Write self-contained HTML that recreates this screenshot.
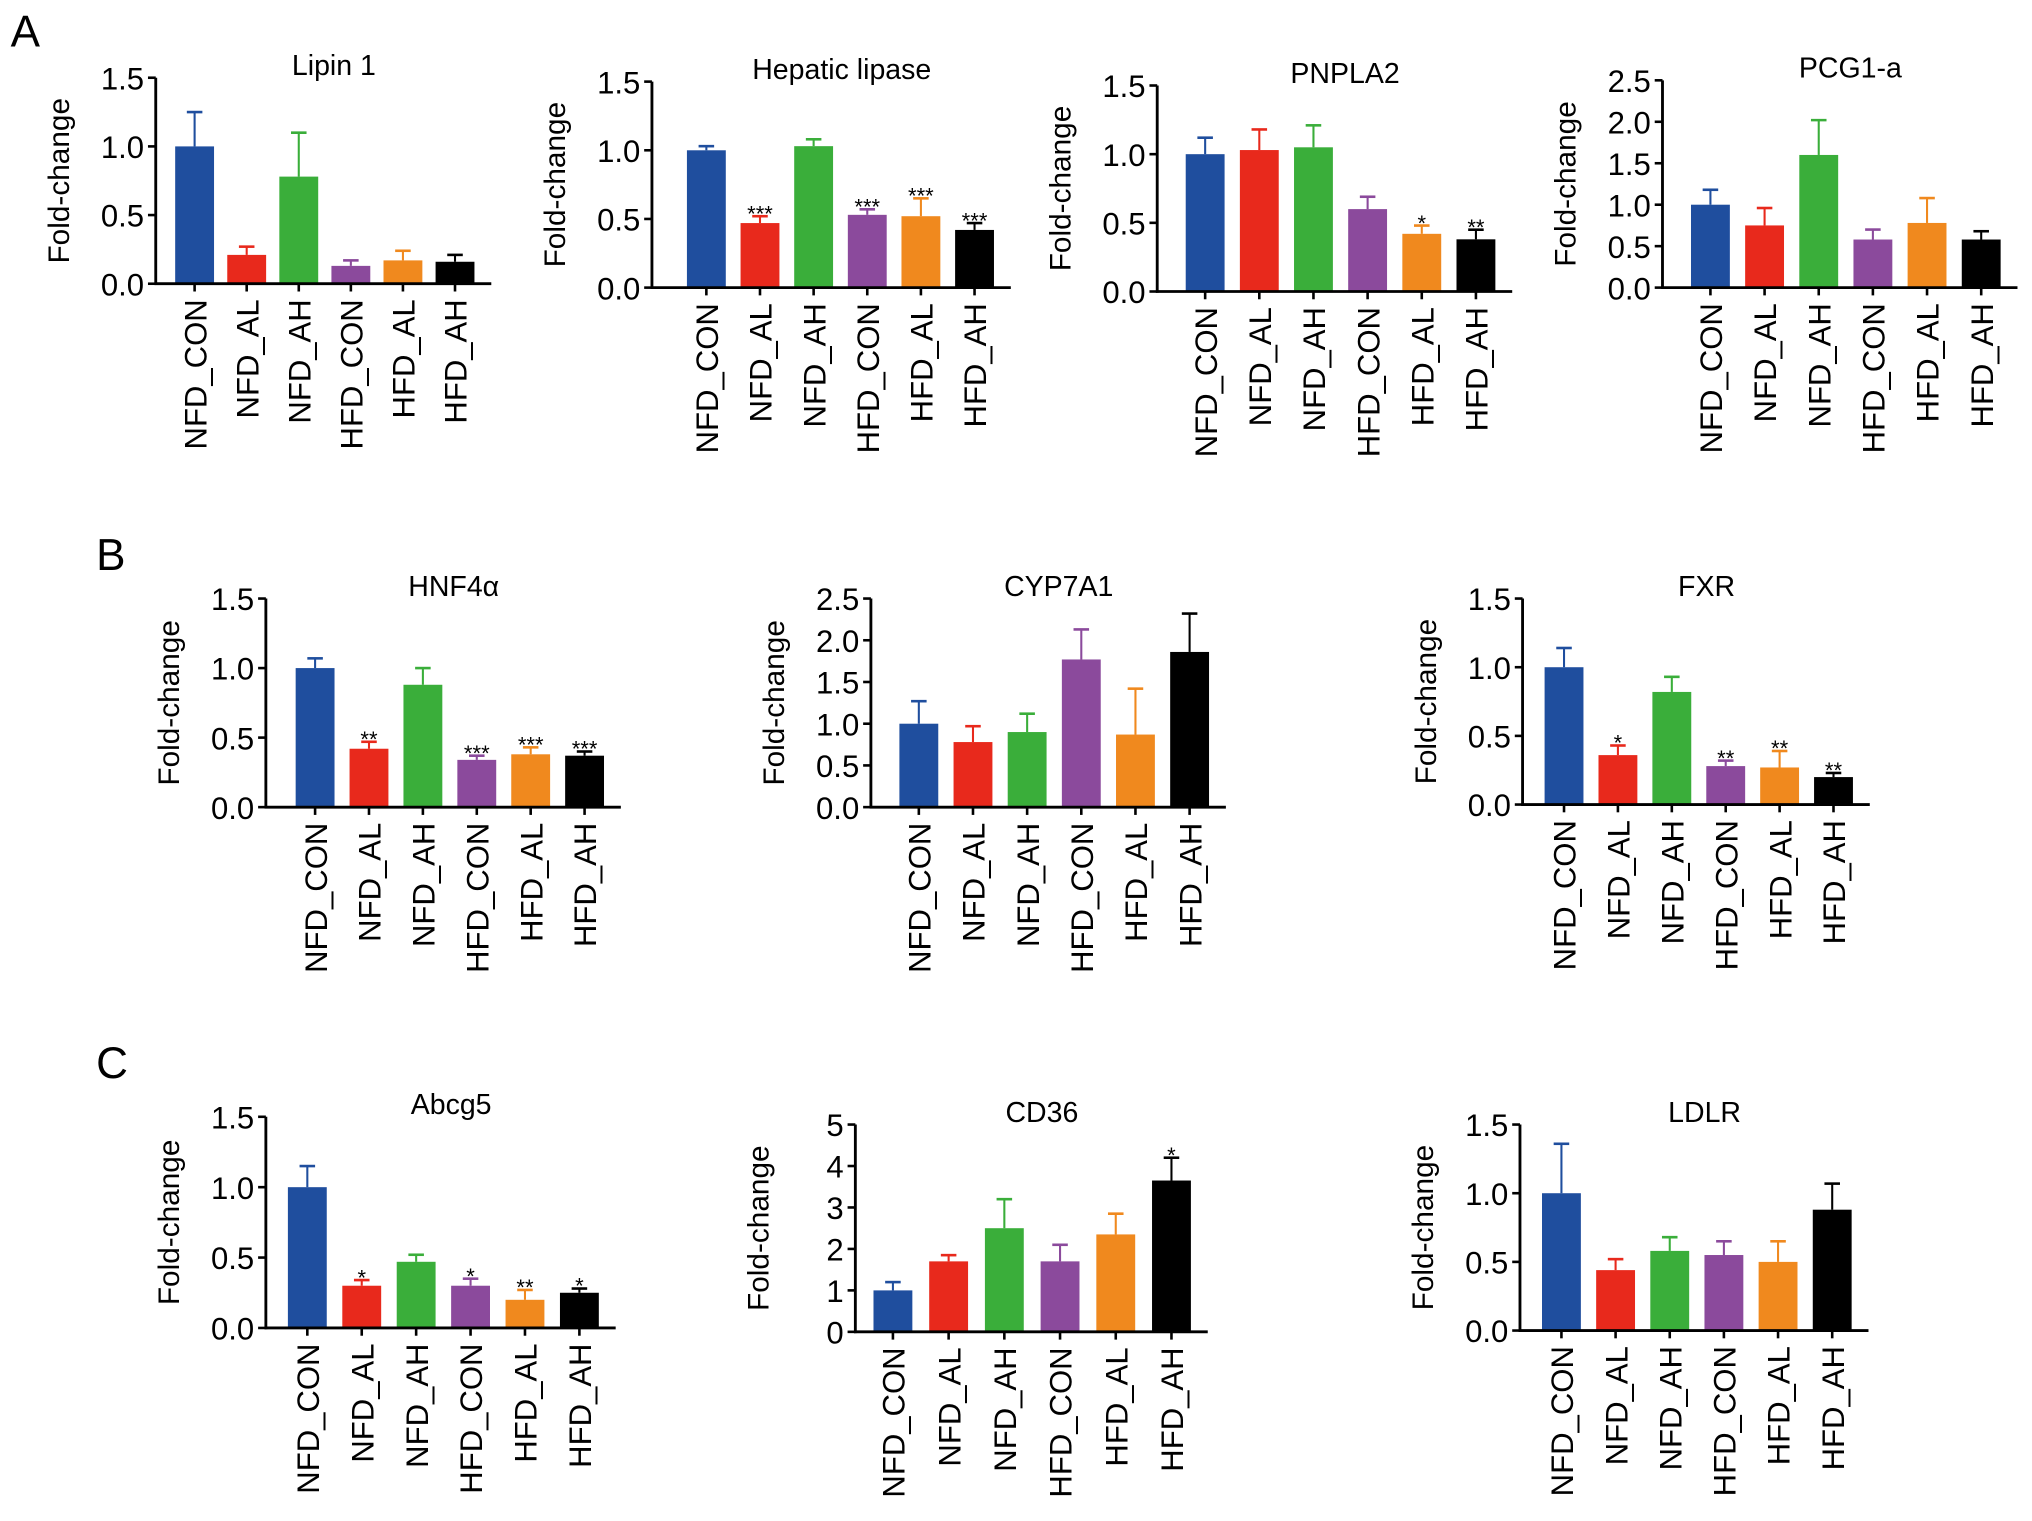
<!DOCTYPE html>
<html><head><meta charset="utf-8">
<style>
html,body{margin:0;padding:0;background:#fff;}
svg{display:block;font-family:"Liberation Sans",Arial,sans-serif;}
</style></head>
<body>
<svg id="fig" width="2032" height="1521" viewBox="0 0 1568 1174" xmlns="http://www.w3.org/2000/svg">
<text x="8" y="36" font-size="34">A</text>
<text x="74" y="440" font-size="34">B</text>
<text x="74" y="832" font-size="34">C</text>
</svg>
<script>
const categories = ["NFD_CON","NFD_AL","NFD_AH","HFD_CON","HFD_AL","HFD_AH"];
const colors = ["#1f4e9e","#e8291c","#3aae3a","#8b4a9c","#f0891e","#000000"];

const lipinMeans = [1.0,0.21,0.78,0.13,0.17,0.16];
const lipinErr = [1.25,0.27,1.10,0.17,0.24,0.21];
const lipinStars = ["","","","","",""];
const hepaticMeans = [1.0,0.47,1.03,0.53,0.52,0.42];
const hepaticErr = [1.03,0.52,1.08,0.57,0.65,0.47];
const hepaticStars = ["","***","","***","***","***"];
const pnplaMeans = [1.0,1.03,1.05,0.60,0.42,0.38];
const pnplaErr = [1.12,1.18,1.21,0.69,0.48,0.45];
const pnplaStars = ["","","","","*","**"];
const pcgMeans = [1.0,0.75,1.6,0.58,0.78,0.58];
const pcgErr = [1.18,0.96,2.02,0.70,1.08,0.68];
const pcgStars = ["","","","","",""];
const hnfMeans = [1.0,0.42,0.88,0.34,0.38,0.37];
const hnfErr = [1.07,0.47,1.0,0.37,0.43,0.40];
const hnfStars = ["","**","","***","***","***"];
const cypMeans = [1.0,0.78,0.9,1.77,0.87,1.86];
const cypErr = [1.27,0.97,1.12,2.13,1.42,2.32];
const cypStars = ["","","","","",""];
const fxrMeans = [1.0,0.36,0.82,0.28,0.27,0.20];
const fxrErr = [1.14,0.43,0.93,0.32,0.39,0.23];
const fxrStars = ["","*","","**","**","**"];
const abcMeans = [1.0,0.30,0.47,0.30,0.20,0.25];
const abcErr = [1.15,0.34,0.52,0.35,0.27,0.28];
const abcStars = ["","*","","*","**","*"];
const cdMeans = [1.0,1.7,2.5,1.7,2.35,3.65];
const cdErr = [1.2,1.85,3.2,2.1,2.85,4.2];
const cdStars = ["","","","","","*"];
const ldlrMeans = [1.0,0.44,0.58,0.55,0.50,0.88];
const ldlrErr = [1.36,0.52,0.68,0.65,0.65,1.07];
const ldlrStars = ["","","","","",""];

const ticks15 = ["0.0","0.5","1.0","1.5"];
const ticks25 = ["0.0","0.5","1.0","1.5","2.0","2.5"];
const ticks5 = ["0","1","2","3","4","5"];

const panels = [
 {name:"lipin-1",title:"Lipin 1",m:lipinMeans,e:lipinErr,s:lipinStars,t:ticks15,ax:120,y0:219,yt:60,c0:150,sp:40.2},
 {name:"hepatic-lipase",title:"Hepatic lipase",m:hepaticMeans,e:hepaticErr,s:hepaticStars,t:ticks15,ax:503,y0:222,yt:63,c0:545,sp:41.4},
 {name:"pnpla2",title:"PNPLA2",m:pnplaMeans,e:pnplaErr,s:pnplaStars,t:ticks15,ax:893,y0:225,yt:66,c0:930,sp:41.8},
 {name:"pcg1a",title:"PCG1-a",m:pcgMeans,e:pcgErr,s:pcgStars,t:ticks25,ax:1283,y0:222,yt:62,c0:1320,sp:41.8},
 {name:"hnf4a",title:"HNF4\u03b1",m:hnfMeans,e:hnfErr,s:hnfStars,t:ticks15,ax:205,y0:623,yt:462,c0:243,sp:41.6},
 {name:"cyp7a1",title:"CYP7A1",m:cypMeans,e:cypErr,s:cypStars,t:ticks25,ax:672,y0:623,yt:462,c0:709,sp:41.8},
 {name:"fxr",title:"FXR",m:fxrMeans,e:fxrErr,s:fxrStars,t:ticks15,ax:1175,y0:621,yt:462,c0:1207,sp:41.6},
 {name:"abcg5",title:"Abcg5",m:abcMeans,e:abcErr,s:abcStars,t:ticks15,ax:205,y0:1025,yt:862,c0:237,sp:42},
 {name:"cd36",title:"CD36",m:cdMeans,e:cdErr,s:cdStars,t:ticks5,ax:660,y0:1028,yt:868,c0:689,sp:43},
 {name:"ldlr",title:"LDLR",m:ldlrMeans,e:ldlrErr,s:ldlrStars,t:ticks15,ax:1173,y0:1027,yt:868,c0:1205,sp:41.8}
];

const NS="http://www.w3.org/2000/svg";
const svg=document.getElementById('fig');
function mk(tag,attrs,parent){const el=document.createElementNS(NS,tag);for(const k in attrs)el.setAttribute(k,attrs[k]);parent.appendChild(el);return el;}

panels.forEach(p=>{
  const g=mk('g',{},svg);
  
  
  const ymax=parseFloat(p.t[p.t.length-1]);
  const y=v=>p.y0-(v/ymax)*(p.y0-p.yt);
  const x=i=>p.c0+i*p.sp;
  const right=x(5)+28;
  const bw=30;
  p.m.forEach((v,i)=>{
    const col=colors[i];
    const eb=mk('line',{x1:x(i),x2:x(i),y1:y(v),y2:y(p.e[i]),stroke:col,'stroke-width':1.6},g);
    
    
    const cap=mk('line',{x1:x(i)-6,x2:x(i)+6,y1:y(p.e[i]),y2:y(p.e[i]),stroke:col,'stroke-width':2},g);
    
    
    const r=mk('rect',{x:x(i)-bw/2,y:y(v),width:bw,height:p.y0-y(v),fill:col},g);
    
    
    if(p.s[i]){
      const st=mk('text',{x:x(i),y:y(p.e[i])+4,'font-size':17,'text-anchor':'middle'},g);
      st.textContent=p.s[i];
      
      
    }
    const tk=mk('line',{x1:x(i),x2:x(i),y1:p.y0,y2:p.y0+6,stroke:'#000','stroke-width':2},g);
    
    
    const lb=mk('text',{x:0,y:0,'font-size':24,'text-anchor':'end',transform:`translate(${x(i)+9},${p.y0+12}) rotate(-90)`},g);
    lb.textContent=categories[i];
    
    
  });
  const ya=mk('line',{x1:p.ax,x2:p.ax,y1:p.yt,y2:p.y0+1,stroke:'#000','stroke-width':2.2},g);
  
  
  const xa=mk('line',{x1:p.ax-1,x2:right,y1:p.y0,y2:p.y0,stroke:'#000','stroke-width':2.2},g);
  
  
  p.t.forEach(t=>{
    const v=parseFloat(t);
    const tk=mk('line',{x1:p.ax-6,x2:p.ax,y1:y(v),y2:y(v),stroke:'#000','stroke-width':2},g);
    
    
    const tl=mk('text',{x:p.ax-9,y:y(v)+9,'font-size':24,'text-anchor':'end'},g);
    tl.textContent=t;
    
    
  });
  const yl=mk('text',{x:0,y:0,'font-size':23,'text-anchor':'middle',transform:`translate(${p.ax-67},${(p.y0+p.yt)/2}) rotate(-90)`},g);
  yl.textContent='Fold-change';
  
  
  const ti=mk('text',{x:(p.ax+right)/2+8,y:p.yt-2,'font-size':22,'text-anchor':'middle'},g);
  ti.textContent=p.title;
  
  
});
</script>
</body></html>
